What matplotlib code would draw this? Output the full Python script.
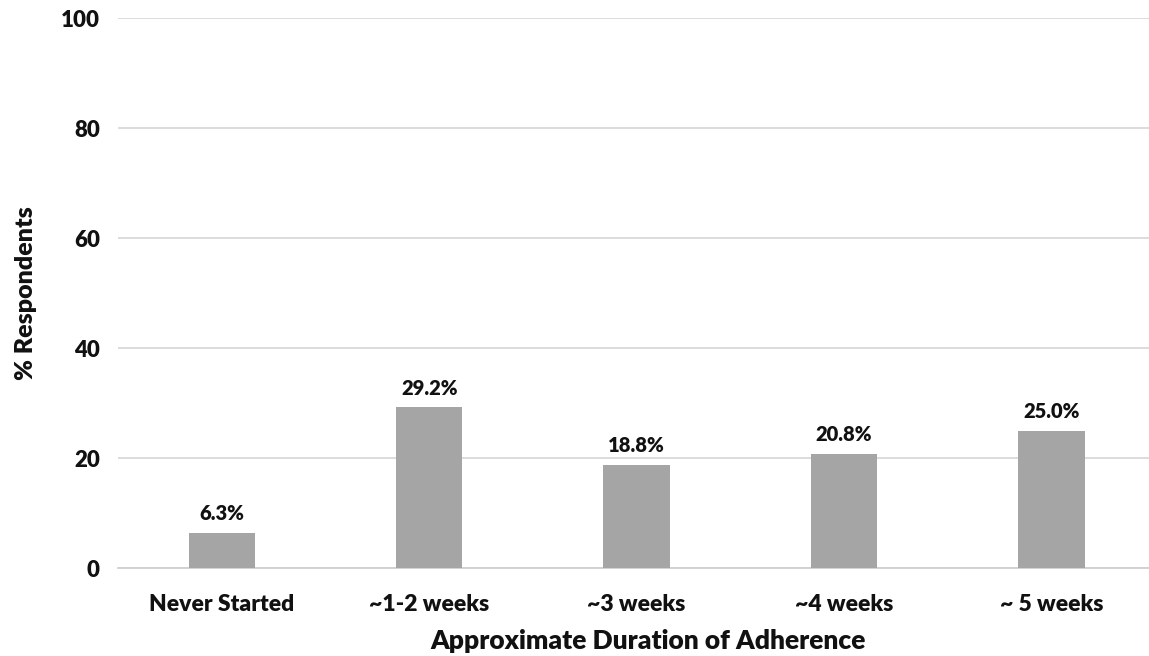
import matplotlib
matplotlib.use("Agg")
import matplotlib.pyplot as plt

# data
categories = ["Never Started", "~1-2 weeks", "~3 weeks", "~4 weeks", "~ 5 weeks"]
values = [6.3, 29.2, 18.8, 20.8, 25.0]
y_ticks = [0, 20, 40, 60, 80, 100]

plt.rcParams["font.family"] = ["Lato", "DejaVu Sans"]
W = "heavy"

fig = plt.figure(figsize=(11.49, 6.56), dpi=100)
ax = fig.add_axes([0.1027, 0.1341, 0.8973, 0.8384])

x = list(range(len(categories)))
ax.bar(x, values, width=0.32, color="#a5a5a5", zorder=3)

for xi, v in zip(x, values):
    ax.text(xi, v + 1.8, f"{v:.1f}%", ha="center", va="bottom",
            fontsize=14.5, fontweight=W, color="#111111")

ax.set_xlim(-0.5, 4.47)
ax.set_ylim(0, 100)
ax.set_yticks(y_ticks)
ax.set_xticks(x)
ax.set_xticklabels(categories, fontsize=16.5, fontweight=W, color="#111111")
ax.set_yticklabels([str(t) for t in y_ticks], fontsize=16, fontweight=W,
                   color="#111111")
ax.tick_params(axis="y", length=0, pad=13)
ax.tick_params(axis="x", length=0, pad=19)

ax.yaxis.grid(True, color="#d9d9d9", linewidth=1.3, zorder=0)
for s in ["top", "right", "left"]:
    ax.spines[s].set_visible(False)
ax.spines["bottom"].set_color("#d0d0d0")
ax.spines["bottom"].set_linewidth(1.3)

ax.set_ylabel("% Respondents", fontsize=18, fontweight=W, color="#111111",
              labelpad=17)
ax.set_xlabel("Approximate Duration of Adherence", fontsize=19,
              fontweight=W, color="#111111")
ax.xaxis.set_label_coords(0.514, -0.11)

fig.savefig("out.png", dpi=100)
